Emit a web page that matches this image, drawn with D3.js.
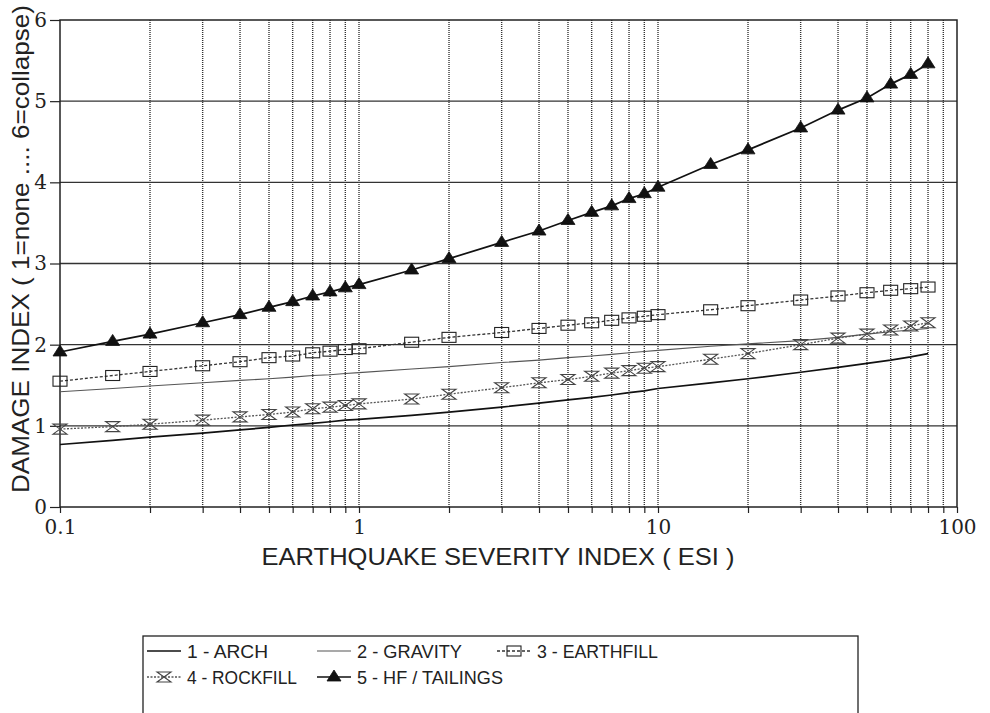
<!DOCTYPE html>
<html><head><meta charset="utf-8">
<script src="https://cdn.jsdelivr.net/npm/d3@7/dist/d3.min.js"></script>
<style>body{margin:0;background:#fff}</style>
</head><body><svg id="c" width="990" height="713"></svg>
<script>
const esi = [0.1,0.15,0.2,0.3,0.4,0.5,0.6,0.7,0.8,0.9,1,1.5,2,3,4,5,6,7,8,9,10,15,20,30,40,50,60,70,80];
const arch = [0.77,0.82,0.86,0.91,0.95,0.98,1.01,1.03,1.05,1.07,1.08,1.13,1.17,1.23,1.28,1.32,1.35,1.38,1.41,1.43,1.46,1.53,1.58,1.66,1.72,1.77,1.81,1.85,1.89];
const gravity = [1.42,1.46,1.49,1.53,1.56,1.58,1.60,1.62,1.63,1.645,1.655,1.70,1.73,1.78,1.81,1.84,1.86,1.88,1.90,1.915,1.93,1.98,2.01,2.05,2.09,2.13,2.16,2.18,2.20];
const earthfill = [1.55,1.62,1.67,1.74,1.79,1.84,1.86,1.90,1.92,1.94,1.95,2.03,2.09,2.15,2.20,2.24,2.27,2.30,2.33,2.35,2.37,2.43,2.48,2.55,2.60,2.64,2.67,2.69,2.71];
const rockfill = [0.96,0.99,1.02,1.07,1.11,1.14,1.17,1.21,1.23,1.25,1.27,1.33,1.39,1.47,1.53,1.57,1.61,1.65,1.68,1.71,1.73,1.82,1.89,2.00,2.08,2.13,2.18,2.23,2.27];
const tailings = [1.91,2.04,2.13,2.27,2.37,2.46,2.53,2.60,2.65,2.70,2.74,2.92,3.06,3.26,3.40,3.53,3.63,3.71,3.80,3.86,3.94,4.22,4.40,4.67,4.89,5.04,5.21,5.33,5.46];
const xTicks = [0.1,1,10,100];
const yTicks = [0,1,2,3,4,5,6];
const seriesNames = ["1 - ARCH","2 - GRAVITY","3 - EARTHFILL","4 - ROCKFILL","5 - HF / TAILINGS"];
const xTitle = "EARTHQUAKE SEVERITY INDEX ( ESI )";
const yTitle = "DAMAGE INDEX ( 1=none .... 6=collapse)";

const svg = d3.select("#c");
const L=60, R=957, T=20, B=507;
const x = d3.scaleLog().domain([0.1,100]).range([L,R]);
const y = d3.scaleLinear().domain([0,6]).range([B,T]);

const gridX = [];
[0.1,1,10].forEach(d=>{for(let k=1;k<10;k++) gridX.push(+(d*k).toPrecision(3));});
gridX.push(100);

const g = svg.append("g");
g.selectAll("line.vg").data(gridX.filter(v=>v>0.1 && v<100)).join("line")
  .attr("x1",d=>x(d)).attr("x2",d=>x(d)).attr("y1",T).attr("y2",B)
  .attr("stroke","#333").attr("stroke-width",1.4).attr("stroke-dasharray","1,1");
g.selectAll("line.hg").data(yTicks.filter(v=>v>0 && v<6)).join("line")
  .attr("x1",L).attr("x2",R).attr("y1",d=>y(d)).attr("y2",d=>y(d))
  .attr("stroke","#333").attr("stroke-width",1.3);
g.append("rect").attr("x",L).attr("y",T).attr("width",R-L).attr("height",B-T)
  .attr("fill","none").attr("stroke","#222").attr("stroke-width",1.5);

const serif = "'DejaVu Serif', 'Liberation Serif', serif";
const xAxis = d3.axisBottom(x).tickValues(gridX).tickSize(6).tickFormat(d=>xTicks.includes(d)? d3.format("~g")(d):"");
const xa = svg.append("g").attr("transform",`translate(0,${B})`).call(xAxis);
xa.select(".domain").remove();
xa.selectAll(".tick line").attr("stroke","#222").attr("stroke-width",1.2);
xa.selectAll(".tick text").attr("font-family",serif).attr("font-size",20).attr("fill","#222").attr("dy","0.9em");

const yAxis = d3.axisLeft(y).tickValues(yTicks).tickSize(10).tickFormat(d3.format("d"));
const ya = svg.append("g").attr("transform",`translate(${L},0)`).call(yAxis);
ya.select(".domain").remove();
ya.selectAll(".tick line").attr("stroke","#222").attr("stroke-width",1.2);
ya.selectAll(".tick text").attr("font-family",serif).attr("font-size",20).attr("fill","#222").attr("x",-13);

const sans = "'Liberation Sans',Arial,sans-serif";
svg.append("text").attr("x",498).attr("y",565).attr("text-anchor","middle")
  .attr("font-family",sans).attr("font-size",24).attr("fill","#222")
  .attr("textLength",473).attr("lengthAdjust","spacingAndGlyphs").text(xTitle);
svg.append("text").attr("transform",`translate(29,249) rotate(-90)`).attr("text-anchor","middle")
  .attr("font-family",sans).attr("font-size",24).attr("fill","#222")
  .attr("textLength",488).attr("lengthAdjust","spacingAndGlyphs").text(yTitle);

const mk = vals => esi.map((e,i)=>({x:e,y:vals[i]}));
const line = d3.line().x(d=>x(d.x)).y(d=>y(d.y));
const styles = [
  {v:arch, stroke:"#111", w:1.7, dash:null, m:null},
  {v:gravity, stroke:"#555", w:1.1, dash:null, m:null},
  {v:earthfill, stroke:"#333", w:1.3, dash:"3,2", m:"square"},
  {v:rockfill, stroke:"#555", w:1.3, dash:"2,1.5", m:"hour"},
  {v:tailings, stroke:"#111", w:1.7, dash:null, m:"tri"}
];
function marker(sel, type, cx, cy){
  if(type==="square"){
    sel.append("rect").attr("x",cx-7).attr("y",cy-5).attr("width",14).attr("height",10)
      .attr("fill","none").attr("stroke","#222").attr("stroke-width",1.1);
  } else if(type==="hour"){
    sel.append("path").attr("d",`M${cx-7},${cy-5}H${cx+7}L${cx-7},${cy+5}H${cx+7}Z`)
      .attr("fill","none").attr("stroke","#444").attr("stroke-width",1.1);
  } else if(type==="tri"){
    sel.append("path").attr("d",`M${cx},${cy-7}L${cx+7},${cy+4}L${cx-7},${cy+4}Z`)
      .attr("fill","#111").attr("stroke","#111").attr("stroke-width",0.8);
  }
}
styles.forEach(s=>{
  const data = mk(s.v);
  svg.append("path").datum(data).attr("d",line).attr("fill","none")
    .attr("stroke",s.stroke).attr("stroke-width",s.w).attr("stroke-dasharray",s.dash);
  if(s.m){
    const mg = svg.append("g");
    data.forEach(d=>marker(mg, s.m, x(d.x), y(d.y)));
  }
});

// legend
const lg = svg.append("g");
lg.append("rect").attr("x",143).attr("y",636).attr("width",715).attr("height",90)
  .attr("fill","none").attr("stroke","#222").attr("stroke-width",1.3);
const legPos = [[147,658,81],[317,658,105],[497,658,121],[147,684,110],[317,684,146]];
legPos.forEach((p,i)=>{
  const s = styles[i];
  const x0=p[0], x1=p[0]+34, yy=p[1]-7;
  lg.append("line").attr("x1",x0).attr("x2",x1).attr("y1",yy).attr("y2",yy)
    .attr("stroke",s.stroke).attr("stroke-width",s.w).attr("stroke-dasharray",s.dash);
  if(s.m) marker(lg, s.m, (x0+x1)/2, yy);
  lg.append("text").attr("x",x1+6).attr("y",p[1]).attr("font-family",sans).attr("font-size",19)
    .attr("fill","#222").attr("textLength",p[2]).attr("lengthAdjust","spacingAndGlyphs").text(seriesNames[i]);
});
</script></body></html>
